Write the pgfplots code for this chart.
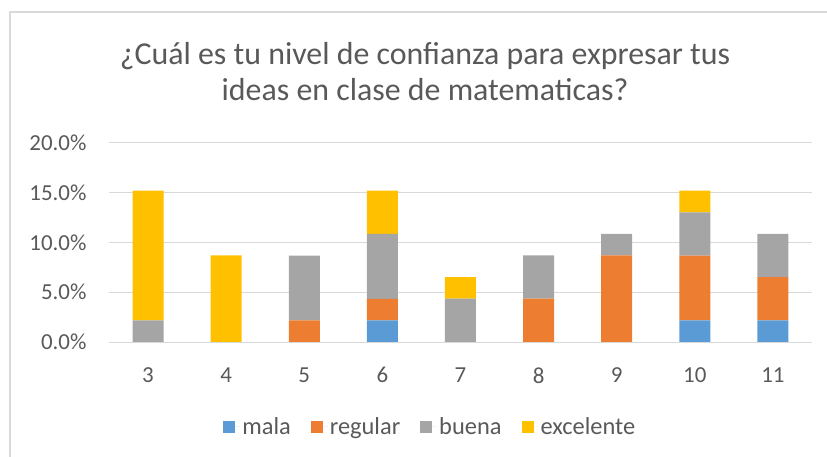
\documentclass[border=0pt]{standalone}
\usepackage{pgfplots}
\pgfplotsset{compat=1.18}
\usepackage{fontspec}
\setmainfont{Carlito}
\definecolor{cmala}{HTML}{5B9BD5}
\definecolor{creg}{HTML}{ED7D31}
\definecolor{cbuena}{HTML}{A5A5A5}
\definecolor{cexc}{HTML}{FFC000}
\definecolor{txt}{HTML}{595959}
\definecolor{cgrid}{HTML}{D9D9D9}
\begin{document}
\begin{tikzpicture}[x=1bp,y=1bp]
\foreach \g in {1,2,3,4} {
  \draw[cgrid, line width=1bp] (109bp,115bp+\g*49.75bp) -- (812bp,115bp+\g*49.75bp);
}
\begin{axis}[
  at={(109bp,115bp)}, anchor=south west,
  scale only axis, width=703bp, height=199bp,
  ybar stacked, bar width=31bp,
  xmin=2.5, xmax=11.5, ymin=0, ymax=20,
  xtick={3,4,5,6,7,8,9,10,11},
  ytick={0,5,10,15,20},
  axis line style={draw=none},
  axis x line*=bottom, axis y line*=left,
  x axis line style={draw=cgrid, line width=1bp},
  major tick length=0pt,
  tick label style={font=\fontsize{23}{26}\selectfont, text=txt},
  /pgf/number format/assume math mode=true,
  yticklabel={\pgfmathprintnumber[fixed,fixed zerofill,precision=1]{\tick}\%},
  xticklabel style={yshift=-22bp},
  yticklabel style={xshift=-19bp},
  legend style={at={(0.457,-0.427)}, anchor=center, draw=none, fill=none,
    font=\fontsize{24.5}{27}\selectfont, text=txt,
    /tikz/every even column/.append style={column sep=18bp}},
  legend columns=-1,
  legend image code/.code={\fill[#1] (0bp,-6bp) rectangle (12bp,6bp); \path (0bp,0bp) -- (17bp,0bp);},
]
\addplot[fill=cmala, draw=none] coordinates {(3,0) (4,0) (5,0) (6,2.17) (7,0) (8,0) (9,0) (10,2.17) (11,2.17)};
\addplot[fill=creg, draw=none] coordinates {(3,0) (4,0) (5,2.17) (6,2.17) (7,0) (8,4.35) (9,8.70) (10,6.52) (11,4.35)};
\addplot[fill=cbuena, draw=none] coordinates {(3,2.17) (4,0) (5,6.52) (6,6.52) (7,4.35) (8,4.35) (9,2.17) (10,4.35) (11,4.35)};
\addplot[fill=cexc, draw=none] coordinates {(3,13.04) (4,8.70) (5,0) (6,4.35) (7,2.17) (8,0) (9,0) (10,2.17) (11,0)};
\legend{mala, regular, buena, excelente}
\end{axis}
\node[text=txt, font=\fontsize{32}{36}\selectfont, anchor=base] at (425bp,392bp) {¿Cuál es tu nivel de confianza para expresar tus};
\node[text=txt, font=\fontsize{32}{36}\selectfont, anchor=base] at (425bp,356bp) {ideas en clase de matematicas?};
\draw[cgrid, line width=1.2bp] (10bp,0bp) -- (10bp,445bp) -- (827bp,445bp);
\pgfresetboundingbox
\path (0,0) rectangle (827bp,457bp);
\end{tikzpicture}
\end{document}
